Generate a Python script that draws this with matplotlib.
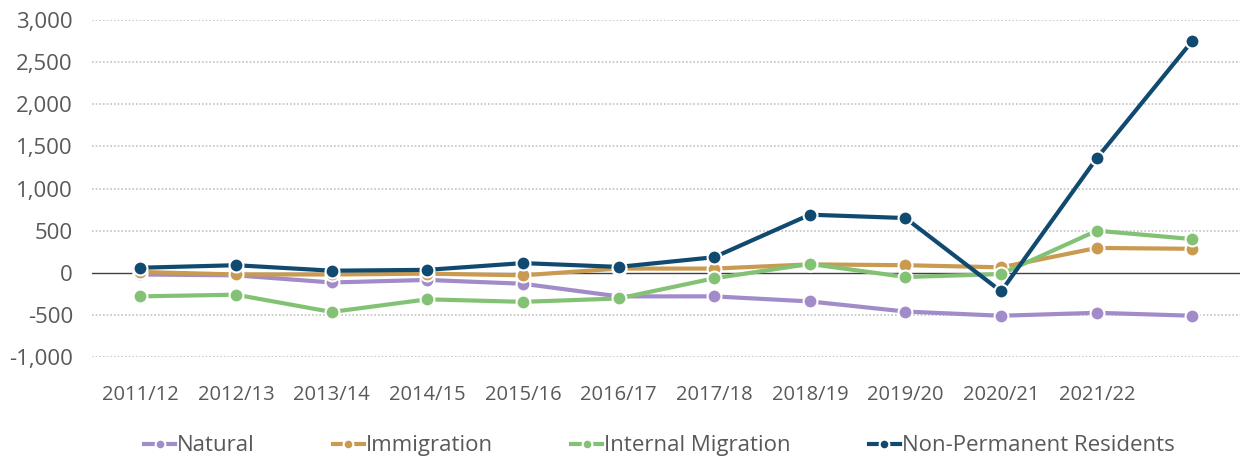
# Population change components by year, line chart with markers

import numpy as np
import matplotlib.pyplot as plt

plt.rcParams["font.family"] = ["Open Sans", "DejaVu Sans"]

# data
years = ["2011/12", "2012/13", "2013/14", "2014/15", "2015/16", "2016/17",
         "2017/18", "2018/19", "2019/20", "2020/21", "2021/22", "2022/23"]
natural = [-20, -30, -115, -85, -130, -280, -280, -340, -460, -510, -475, -510]
immigration = [10, -20, -20, -10, -30, 50, 50, 100, 90, 65, 295, 285]
internal = [-280, -260, -465, -315, -345, -305, -65, 105, -50, -15, 500, 400]
non_permanent = [60, 90, 25, 35, 115, 70, 185, 690, 650, -220, 1360, 2755]

# only the first 11 years carry a tick label in the original
tick_labels = years[:11]

series = [
    ("Natural", natural, "#a28bc9"),
    ("Immigration", immigration, "#c99a50"),
    ("Internal Migration", internal, "#83c274"),
    ("Non-Permanent Residents", non_permanent, "#114a70"),
]

text_col = "#595959"

fig = plt.figure(figsize=(12.49, 4.58), dpi=100)
ax = fig.add_axes([0.074, 0.2205, 0.919, 0.7355])

x = np.arange(len(years))
for name, vals, col in series:
    ax.plot(x, vals, color=col, lw=3, marker="o", ms=10,
            mfc=col, mec="white", mew=1.5, label=name, zorder=3)

# dotted grid plus solid zero line
for v in range(-1000, 3001, 500):
    if v == 0:
        ax.axhline(0, color="#404040", lw=1, zorder=2)
    else:
        ax.axhline(v, color="#c4c4c4", lw=1.2, ls=(0, (1, 1.2)), zorder=1)

ax.set_xlim(-0.5, 11.5)
ax.set_ylim(-1000, 3000)
ax.set_yticks(range(-1000, 3001, 500))
ax.set_yticklabels([f"{v:,}" for v in range(-1000, 3001, 500)])
ax.set_xticks(x[:11])
ax.set_xticklabels(tick_labels)
ax.tick_params(length=0, colors=text_col)
ax.tick_params(axis="y", labelsize=16, pad=14)
ax.tick_params(axis="x", labelsize=14.5, pad=20)

for s in ax.spines.values():
    s.set_visible(False)

fig.legend(loc="lower center", ncol=4, frameon=False, fontsize=16,
           labelcolor=text_col, handlelength=1.4, handletextpad=0.1,
           markerscale=0.7, columnspacing=3.5, bbox_to_anchor=(0.528, -0.04))

fig.savefig("out.png", dpi=100)
